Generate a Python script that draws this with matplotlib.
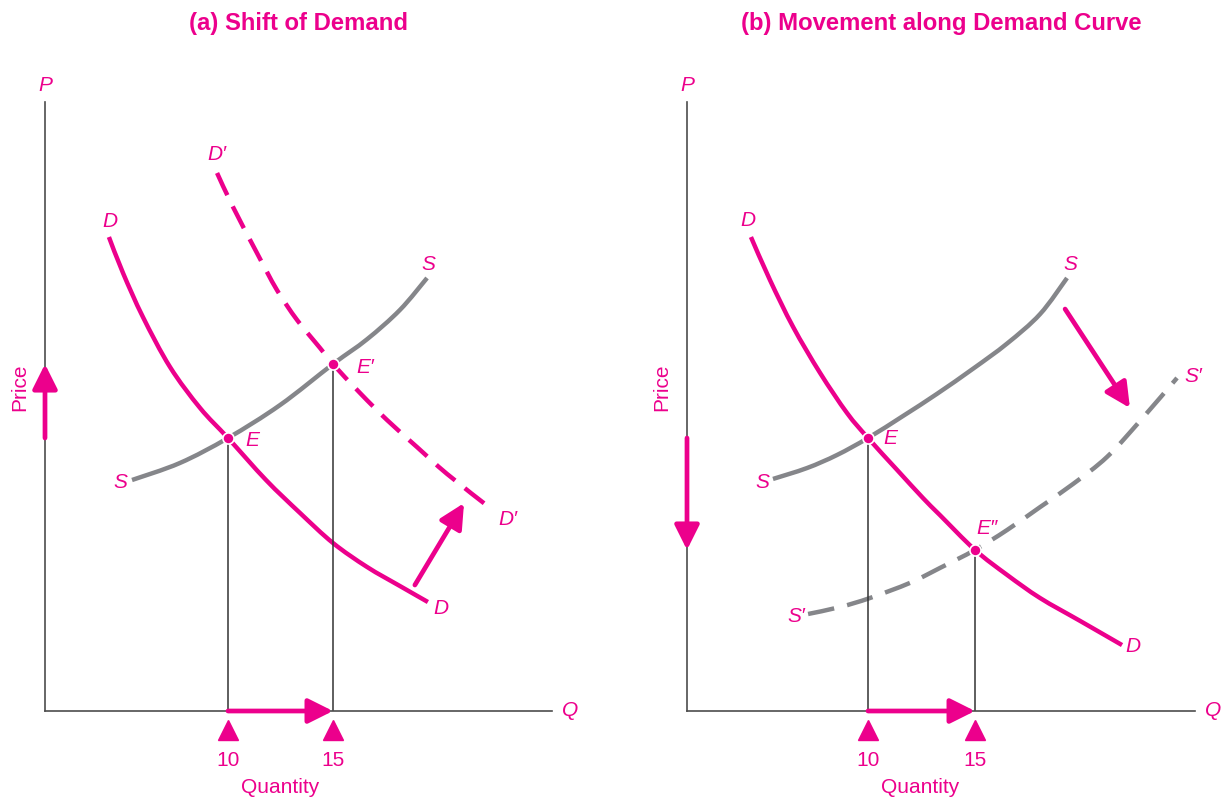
import matplotlib
matplotlib.use("Agg")
import numpy as np
import matplotlib.pyplot as plt
from matplotlib.path import Path
from matplotlib.patches import PathPatch

plt.rcParams['font.family'] = ['Liberation Sans', 'DejaVu Sans']

PINK = '#EC008C'
GRAY = '#85868A'
AXIS = '#4D4D4D'

# ---- data (quantity, price) ----
# panel (a): shift of demand
qa_D = [4.33, 5.0, 5.95, 7.24, 8.67, 10.0, 11.81, 13.43, 15.0, 16.62, 18.19, 19.52]
pa_D = [22.57, 20.86, 18.76, 16.38, 14.43, 13.0, 11.0, 9.43, 8.0, 6.86, 5.95, 5.19]
qa_D2 = [9.48, 10.24, 11.38, 12.33, 13.29, 14.38, 15.0, 16.29, 17.57, 19.0, 20.43, 22.48]
pa_D2 = [25.62, 24.0, 21.81, 20.05, 18.62, 17.29, 16.52, 15.14, 13.86, 12.57, 11.29, 9.67]
qa_S = [5.43, 7.71, 10.0, 12.48, 15.0, 16.62, 18.19, 19.48]
pa_S = [11.0, 11.81, 13.0, 14.57, 16.52, 17.70, 19.10, 20.62]
qa_eq = [10, 15]          # E, E'
pa_eq = [13.0, 16.52]
a_shift = [(18.9, 6.0), (21.24, 9.9)]   # D -> D' arrow

# panel (b): movement along demand curve
qb_D = [4.53, 5.42, 6.50, 7.76, 9.02, 10.0, 11.36, 12.57, 13.36, 15.0, 16.50, 18.04, 19.91, 21.87]
pb_D = [22.57, 20.52, 18.29, 16.10, 14.19, 13.0, 11.48, 10.14, 9.33, 7.67, 6.48, 5.38, 4.29, 3.14]
qb_S = [5.56, 7.15, 8.55, 10.0, 11.64, 13.22, 14.91, 16.50, 18.04, 19.30]
pb_S = [11.05, 11.57, 12.19, 13.0, 14.05, 15.10, 16.30, 17.50, 18.90, 20.62]
qb_S2 = [7.20, 8.69, 10.09, 11.96, 13.36, 15.0, 16.50, 18.04, 19.58, 21.17, 22.71, 24.44]
pb_S2 = [4.62, 4.95, 5.38, 6.10, 6.81, 7.67, 8.62, 9.71, 10.81, 12.10, 13.81, 15.86]
qb_eq = [10, 15]          # E, E''
pb_eq = [13.0, 7.67]
b_shift = [(19.21, 19.14), (22.24, 14.43)]  # S -> S' arrow

ticks = [10, 15]
tick_labels = ['10', '15']

fig = plt.figure(figsize=(12.24, 7.98), dpi=100)


def curve(ax, q, p, color, dashes=None):
    # smooth path through the read points (cubic bezier segments)
    pts = np.column_stack([q, p])
    verts = [pts[0]]
    codes = [Path.MOVETO]
    n = len(pts)
    for i in range(n - 1):
        p0 = pts[max(i - 1, 0)]
        p1 = pts[i]
        p2 = pts[i + 1]
        p3 = pts[min(i + 2, n - 1)]
        verts += [p1 + (p2 - p0) / 6, p2 - (p3 - p1) / 6, p2]
        codes += [Path.CURVE4] * 3
    ls = '-' if dashes is None else (0, dashes)
    ax.add_patch(PathPatch(Path(verts, codes), fill=False, edgecolor=color, lw=3.2,
                           linestyle=ls, capstyle='butt'))


def setup(ax, xlim, title, qmark_x):
    ax.set_xlim(*xlim)
    ax.set_ylim(0, 29.0)
    for s in ['top', 'right']:
        ax.spines[s].set_visible(False)
    for s in ['left', 'bottom']:
        ax.spines[s].set_color(AXIS)
        ax.spines[s].set_linewidth(1.2)
    ax.set_yticks([])
    ax.set_xticks(ticks)
    ax.set_xticklabels(tick_labels, color=PINK, fontsize=15)
    ax.tick_params(axis='x', length=0, pad=29)
    ax.plot(ticks, [-0.9, -0.9], ls='none', marker='^', ms=15, color=PINK, clip_on=False)
    ax.set_title(title, color=PINK, fontsize=17.2, fontweight='bold', pad=52)
    ax.text(xlim[0], 29.8, 'P', color=PINK, fontsize=15, style='italic', ha='center', va='center')
    ax.text(xlim[1] + 0.85, 0, 'Q', color=PINK, fontsize=15, style='italic', ha='center', va='center')
    ax.text(qmark_x, -3.62, 'Quantity', color=PINK, fontsize=15, ha='center', va='center')
    ax.text(xlim[0] - 1.2, 15.4, 'Price', color=PINK, fontsize=15, rotation=90, ha='center', va='center')


def arrow(ax, start, end):
    ax.annotate('', xy=end, xytext=start, annotation_clip=False,
                arrowprops=dict(arrowstyle='-|>,head_length=15,head_width=7.5', color=PINK,
                                lw=3.4, mutation_scale=1, shrinkA=0, shrinkB=0))


def lab(ax, q, p, s):
    ax.text(q, p, s, color=PINK, fontsize=15, style='italic', ha='center', va='center')


# ---------------- panel (a) ----------------
ax1 = fig.add_axes([45 / 1224, 87 / 798, 507 / 1224, 609 / 798])
xa = (1.286, 25.43)
setup(ax1, xa, '(a) Shift of Demand', 12.48)
for q, p in zip(qa_eq, pa_eq):
    ax1.plot([q, q], [0, p], color='#333333', lw=1.1)
curve(ax1, qa_S, pa_S, GRAY)
curve(ax1, qa_D, pa_D, PINK)
curve(ax1, qa_D2, pa_D2, PINK, dashes=(5.5, 2.8))
ax1.plot(qa_eq, pa_eq, ls='none', marker='o', ms=8, color=PINK, mec='white', mew=1.2, zorder=5)
arrow(ax1, a_shift[0], a_shift[1])
arrow(ax1, (xa[0], pa_eq[0]), (xa[0], pa_eq[1]))
arrow(ax1, (qa_eq[0], 0), (qa_eq[1], 0))
lab(ax1, 9.48, 26.48, 'D′')
lab(ax1, 4.38, 23.33, 'D')
lab(ax1, 19.52, 21.24, 'S')
lab(ax1, 16.52, 16.38, 'E′')
lab(ax1, 11.14, 12.9, 'E')
lab(ax1, 23.33, 9.14, 'D′')
lab(ax1, 4.86, 10.86, 'S')
lab(ax1, 20.14, 4.9, 'D')

# ---------------- panel (b) ----------------
ax2 = fig.add_axes([687 / 1224, 87 / 798, 508 / 1224, 609 / 798])
xb = (1.542, 25.28)
setup(ax2, xb, '(b) Movement along Demand Curve', 12.43)
for q, p in zip(qb_eq, pb_eq):
    ax2.plot([q, q], [0, p], color='#333333', lw=1.1)
curve(ax2, qb_S, pb_S, GRAY)
curve(ax2, qb_S2, pb_S2, GRAY, dashes=(6, 3))
curve(ax2, qb_D, pb_D, PINK)
ax2.plot(qb_eq, pb_eq, ls='none', marker='o', ms=8, color=PINK, mec='white', mew=1.2, zorder=5)
arrow(ax2, b_shift[0], b_shift[1])
arrow(ax2, (xb[0], pb_eq[0]), (xb[0], pb_eq[1]))
arrow(ax2, (qb_eq[0], 0), (qb_eq[1], 0))
lab(ax2, 4.39, 23.38, 'D')
lab(ax2, 19.44, 21.24, 'S')
lab(ax2, 25.19, 15.95, 'S′')
lab(ax2, 11.03, 13.0, 'E')
lab(ax2, 15.56, 8.71, 'E″')
lab(ax2, 5.05, 10.86, 'S')
lab(ax2, 6.64, 4.48, 'S′')
lab(ax2, 22.38, 3.05, 'D')

fig.savefig('out.png', dpi=100)
